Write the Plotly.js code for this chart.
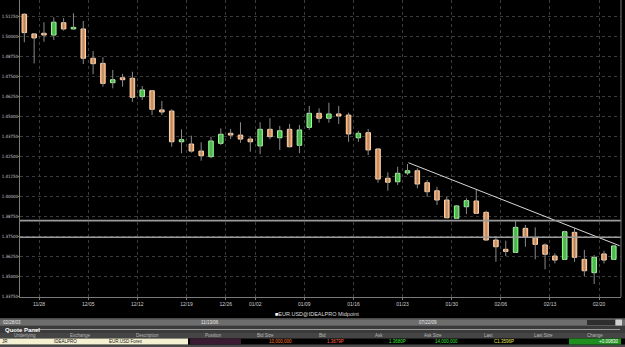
<!DOCTYPE html>
<html><head><meta charset="utf-8">
<script src="https://cdn.plot.ly/plotly-3.0.1.min.js"></script>
<style>html,body{margin:0;padding:0;background:#000;}#chart{width:625px;height:347px;}</style>
</head><body><div id="chart"></div>
<script>
// ---- data (EUR.USD daily midpoint) ----
const openP  = [1.5136,1.5013,1.5017,1.5006,1.5083,1.5044,1.5044,1.4861,1.4829,1.4708,1.4739,1.4736,1.4621,1.4658,1.4538,1.4531,1.4339,1.4325,1.4281,1.4246,1.4329,1.4392,1.4381,1.4356,1.4313,1.4417,1.4364,1.4417,1.4317,1.4429,1.4517,1.4486,1.4513,1.4506,1.4364,1.4396,1.4294,1.4111,1.4089,1.4144,1.4158,1.4083,1.4033,1.3975,1.3861,1.3933,1.3969,1.3898,1.3725,1.3667,1.3648,1.3798,1.3739,1.3694,1.3625,1.3604,1.3773,1.3604,1.3521,1.3638,1.3604];
const highP  = [1.5142,1.5017,1.5086,1.5117,1.5111,1.5142,1.5094,1.4906,1.4867,1.4788,1.4763,1.4777,1.4688,1.4663,1.4594,1.4542,1.4417,1.4377,1.4336,1.4371,1.4423,1.4419,1.4461,1.4371,1.4461,1.4486,1.4438,1.4450,1.4444,1.4563,1.4548,1.4583,1.4563,1.4521,1.4408,1.4419,1.4298,1.4148,1.4183,1.4200,1.4173,1.4100,1.4058,1.3996,1.3944,1.3986,1.4038,1.3908,1.3750,1.3721,1.3850,1.3819,1.3804,1.3704,1.3642,1.3783,1.3798,1.3663,1.3631,1.3658,1.3694];
const lowP   = [1.4961,1.4829,1.4964,1.4975,1.5033,1.5040,1.4825,1.4761,1.4683,1.4673,1.4683,1.4589,1.4600,1.4506,1.4506,1.4308,1.4267,1.4271,1.4221,1.4236,1.4319,1.4356,1.4333,1.4277,1.4261,1.4354,1.4288,1.4304,1.4267,1.4413,1.4458,1.4458,1.4450,1.4339,1.4339,1.4256,1.4083,1.4033,1.4069,1.4131,1.4048,1.3996,1.3944,1.3861,1.3856,1.3888,1.3888,1.3721,1.3589,1.3625,1.3646,1.3683,1.3604,1.3542,1.3579,1.3600,1.3589,1.3500,1.3450,1.3579,1.3600];
const closeP = [1.5021,1.4988,1.5006,1.5086,1.5044,1.5054,1.4861,1.4827,1.4704,1.4727,1.4727,1.4617,1.4663,1.4542,1.4525,1.4339,1.4352,1.4281,1.4252,1.4344,1.4386,1.4381,1.4356,1.4339,1.4417,1.4371,1.4408,1.4308,1.4413,1.4517,1.4486,1.4513,1.4500,1.4388,1.4392,1.4288,1.4106,1.4086,1.4142,1.4158,1.4075,1.4027,1.3975,1.3864,1.3938,1.3971,1.3892,1.3725,1.3683,1.3654,1.3804,1.3742,1.3698,1.3636,1.3600,1.3777,1.3617,1.3533,1.3617,1.3600,1.3688];
// weekly tick labels and the index of the first bar of each labelled week
const weekLabels   = ['11/28','12/05','12/12','12/19','12/26','01/02','01/09','01/16','01/23','01/30','02/06','02/13','02/20'];
const weekStartIdx = [2,7,12,17,21,24,29,34,39,44,49,54,59];
// drawn studies
const trendX = [39.1, 60.6];
const trendY = [1.4208, 1.3689];
const levels = [1.3846, 1.3742];
// quote panel
const quoteHeaders = ['Underlying','Exchange','Description','Position','Bid Size','Bid','Ask','Ask Size','Last','Last Size','Change'];
const quoteRow = {underlying:'JR', exchange:'IDEALPRO', description:'EUR.USD Forex', bidSize:'10,000,000', bid:'1.3679P', ask:'1.3680P', askSize:'14,000,000', last:'C1.3596P', change:'+0.00830'};
const scrollDates = ['02/28/03','11/13/06','07/22/09'];
const seriesName = 'EUR.USD@IDEALPRO Midpoint';

// ---- build traces ----
const n = openP.length;
const idx = openP.map((_, i) => i);
const wx = [], wy = [];
for (let i = 0; i < n; i++) { wx.push(i, i, null); wy.push(lowP[i], highP[i], null); }
const up = idx.map(i => closeP[i] >= openP[i]);
const bodyBase = idx.map(i => Math.min(openP[i], closeP[i]));
const bodyH = idx.map(i => Math.max(Math.abs(closeP[i] - openP[i]), 0.00008));

const traces = [
  {type:'scatter', mode:'lines', x:wx, y:wy, line:{color:'#8a8a8a', width:1}, hoverinfo:'skip', showlegend:false},
  {type:'bar', x:idx, y:bodyH, base:bodyBase, width:0.46,
   marker:{color: up.map(u => u ? '#2fd22f' : '#f09a58'),
           line:{color: up.map(u => u ? '#a8f5a8' : '#ffd6b0'), width:1}},
   showlegend:false},
  {type:'scatter', mode:'lines', x:trendX, y:trendY, line:{color:'#d8d8d8', width:1}, showlegend:false, hoverinfo:'skip'}
];

// ---- pixel helpers for the decorations around the plot ----
const L = 20, R = 621, T = 0, B = 297;
const px = x => (x - L) / (R - L);
const py = y => (B - y) / (B - T);
const shapes = [];
const rect = (x0, y0, x1, y1, fill) => shapes.push({type:'rect', xref:'paper', yref:'paper', x0:px(x0), x1:px(x1), y0:py(y1), y1:py(y0), fillcolor:fill, line:{width:0}, layer:'above'});
levels.forEach(v => shapes.push({type:'line', xref:'paper', yref:'y', x0:0, x1:1, y0:v, y1:v, line:{color:'#9a9a9a', width:1.6}}));
shapes.push({type:'line', xref:'paper', yref:'paper', x0:1, x1:1, y0:0, y1:1, line:{color:'#777', width:1}});
rect(0, 318, 625, 347, '#4a4a4a');
rect(0, 319.5, 625, 325.5, '#6d6d6d');
rect(587, 320, 615, 325, '#2e2e2e');
rect(615.5, 319.5, 622, 325.5, '#cfcfcf');
rect(0, 326, 625, 333, '#3a3a3a');
shapes.push({type:'line', xref:'paper', yref:'paper', x0:px(33), x1:px(620), y0:py(329.5), y1:py(329.5), line:{color:'#9a9a9a', width:1}, layer:'above'});
rect(0, 333, 625, 338.5, '#454545');
rect(0, 338.5, 625, 344.5, '#000000');
rect(0, 338.5, 188, 344.5, '#f4f0d2');
rect(190, 338.5, 241, 344.5, '#3a1b33');
rect(569, 338.5, 621, 344.5, '#1f8f1f');

const FONT = 'Liberation Sans, Arial, sans-serif';
const ann = [];
const A = (text, x, y, opts = {}) => ann.push(Object.assign({text, xref:'paper', yref:'paper', x:px(x), y:py(y), showarrow:false,
  xanchor:'center', yanchor:'middle', font:{family:FONT, size:5, color:'#cfcfcf'}}, opts));
A('<span style="color:#fff">■</span>' + seriesName, 273, 313.5, {xanchor:'left', font:{family:FONT, size:5.5, color:'#dcdcdc'}});
A(scrollDates[0], 1, 322.5, {xanchor:'left', font:{family:FONT, size:4.5, color:'#e8e8e8'}});
A(scrollDates[1], 210, 322.5, {font:{family:FONT, size:4.5, color:'#e8e8e8'}});
A(scrollDates[2], 428, 322.5, {font:{family:FONT, size:4.5, color:'#e8e8e8'}});
A('<b>Quote Panel</b>', 3, 329.5, {xanchor:'left', font:{family:FONT, size:6, color:'#ffffff'}});
const headerX = [25, 80, 147, 213, 265, 322, 379, 433, 488, 543, 595];
quoteHeaders.forEach((h, i) => A(h, headerX[i], 335.8, {font:{family:FONT, size:4.5, color:'#b8b8b8'}}));
A(quoteRow.underlying, 0, 341.5, {xanchor:'left', font:{family:FONT, size:4.5, color:'#222'}});
A(quoteRow.exchange, 65, 341.5, {font:{family:FONT, size:4.5, color:'#222'}});
A(quoteRow.description, 107, 341.5, {xanchor:'left', font:{family:FONT, size:4.5, color:'#222'}});
A(quoteRow.bidSize, 280, 341.5, {font:{family:FONT, size:4.5, color:'#ff7a33'}});
A(quoteRow.bid, 346, 341.5, {xanchor:'right', font:{family:FONT, size:4.5, color:'#ff6a4a'}});
A(quoteRow.ask, 408, 341.5, {xanchor:'right', font:{family:FONT, size:4.5, color:'#3fe23f'}});
A(quoteRow.askSize, 446, 341.5, {font:{family:FONT, size:4.5, color:'#3fe23f'}});
A(quoteRow.last, 516, 341.5, {xanchor:'right', font:{family:FONT, size:4.5, color:'#e6e65a'}});
A(quoteRow.change, 620, 341.5, {xanchor:'right', font:{family:FONT, size:4.5, color:'#ffffff'}});

const yTicks = [];
for (let v = 1.3375; v <= 1.51251; v += 0.0125) yTicks.push(+v.toFixed(5));

const layout = {
  width:625, height:347, margin:{l:L, r:625 - R, t:T, b:347 - B},
  paper_bgcolor:'#000', plot_bgcolor:'#000', showlegend:false, bargap:0,
  font:{family:FONT, color:'#cfcfcf', size:5},
  xaxis:{range:[-0.44, 60.73], tickvals:weekStartIdx.map(v => v - 0.5), ticktext:weekLabels,
         showgrid:true, gridcolor:'#3c3c3c', griddash:'dot', gridwidth:1, zeroline:false,
         showline:true, linecolor:'#7a7a7a', ticks:'outside', ticklen:2, tickcolor:'#7a7a7a',
         tickfont:{family:FONT, size:5, color:'#cfcfcf'}, fixedrange:true},
  yaxis:{range:[1.3369, 1.5225], tickvals:yTicks, tickformat:'.5f',
         showgrid:true, gridcolor:'#3c3c3c', griddash:'dot', gridwidth:1, zeroline:false,
         showline:true, linecolor:'#7a7a7a', ticks:'outside', ticklen:1, tickcolor:'#7a7a7a',
         ticklabelstandoff:-1,
         tickfont:{family:'Liberation Sans Narrow, DejaVu Sans Condensed, Liberation Sans, sans-serif', size:4.4, color:'#cfcfcf'}, fixedrange:true},
  shapes, annotations:ann
};
Plotly.newPlot('chart', traces, layout, {displayModeBar:false, staticPlot:true});
</script></body></html>
